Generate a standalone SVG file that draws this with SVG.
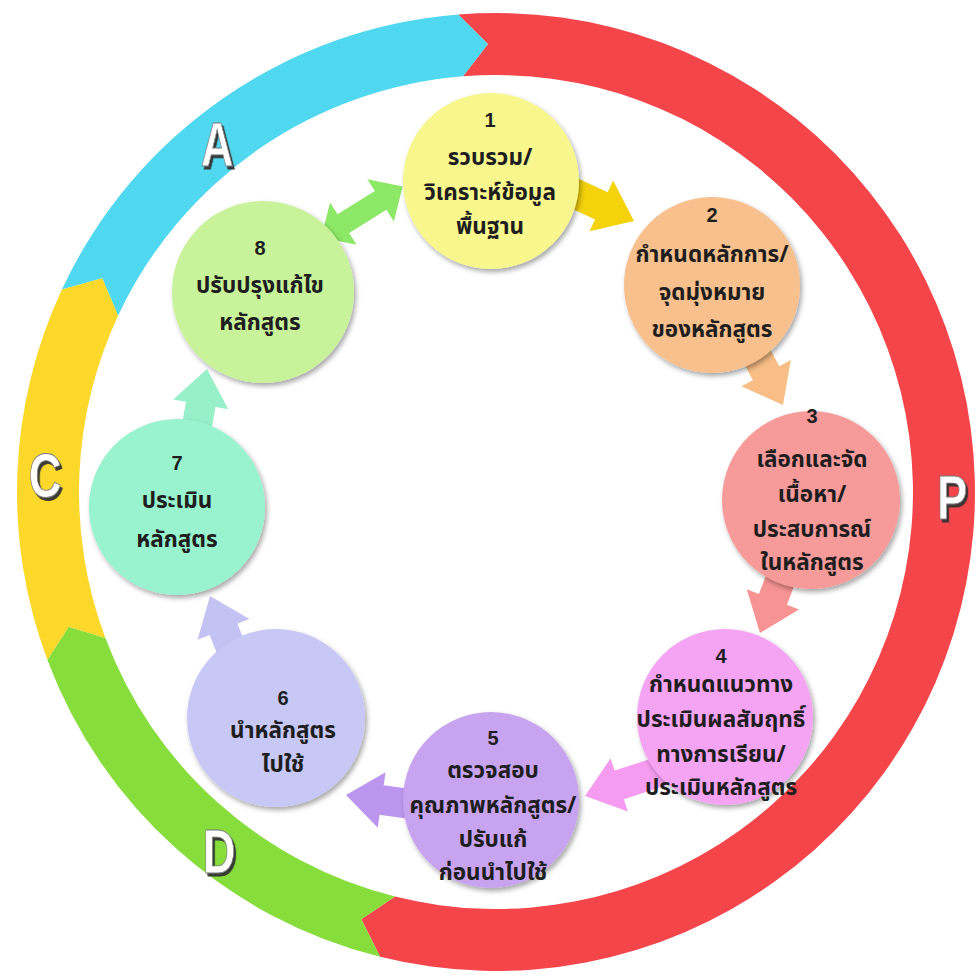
<svg xmlns="http://www.w3.org/2000/svg" xmlns:xlink="http://www.w3.org/1999/xlink" width="977" height="976" viewBox="0 0 977 976">
  <defs>
    <style>
      .t { font-family: "Noto Sans Thai", "Noto Sans Thai UI", "Tahoma", "Noto Sans", sans-serif; font-weight: bold; font-size: 22.5px; fill: #1e1e1e; text-anchor: middle; }
      .n { font-family: "Liberation Sans", "Noto Sans", sans-serif; font-weight: bold; font-size: 20px; fill: #1e1e1e; text-anchor: middle; }
      .L { font-family: "Liberation Sans", "Noto Sans", sans-serif; font-weight: bold; font-size: 63px; text-anchor: middle; fill: #ffffff; stroke: #777; stroke-width: 0.8; filter: url(#lsh); }
      .node circle { filter: url(#sh); }
    </style>
    <filter id="sh" x="-20%" y="-20%" width="140%" height="140%">
      <feDropShadow dx="2" dy="3" stdDeviation="2.5" flood-color="#000" flood-opacity="0.35"/>
    </filter>
    <filter id="lsh" x="-30%" y="-30%" width="160%" height="160%">
      <feDropShadow dx="3" dy="3" stdDeviation="0.6" flood-color="#333" flood-opacity="0.95"/>
    </filter>
    <polygon id="arr" points="-100,-15 -36,-15 -36,-28 0,0 -36,28 -36,15 -100,15"/>
    <polygon id="darr" points="-48,0 -22,-25 -22,-11 22,-11 22,-25 48,0 22,25 22,11 -22,11 -22,25"/>
  </defs>
  <rect width="977" height="976" fill="#ffffff"/>

  <g id="ring">
    <path id="seg-A" fill="#4FD8EF" d="M61.88,289.57 A479,479 0 0 1 458.42,14.47 L488.18,44.07 L463.28,76.28 A417,417 0 0 0 118.07,315.77 L102.29,278.23 Z"/>
    <path id="seg-P" fill="#F4464A" d="M458.42,14.47 A479,479 0 1 1 380.12,956.77 L361.28,919.27 L395.12,896.62 A417,417 0 1 0 463.28,76.28 L488.18,44.07 Z"/>
    <path id="seg-D" fill="#86DD3B" d="M380.12,956.77 A479,479 0 0 1 47.33,659.75 L68.73,626.72 L105.41,638.04 A417,417 0 0 0 395.12,896.62 L361.28,919.27 Z"/>
    <path id="seg-C" fill="#FBD82A" d="M47.33,659.75 A479,479 0 0 1 61.88,289.57 L102.29,278.23 L118.07,315.77 A417,417 0 0 0 105.41,638.04 L68.73,626.72 Z"/>
    <g id="letters">
      <g transform="translate(217,166) scale(0.72,1)"><text class="L">A</text></g>
      <g transform="translate(45,497) scale(0.72,1)"><text class="L">C</text></g>
      <g transform="translate(219,873) scale(0.72,1)"><text class="L">D</text></g>
      <g transform="translate(952,519) scale(0.72,1)"><text class="L">P</text></g>
    </g>
  </g>

  <g id="connectors">
    <use xlink:href="#arr" fill="#F4D20C" transform="translate(634,221) rotate(25)"/>
    <use xlink:href="#arr" fill="#F8BE86" transform="translate(783,405) rotate(62)"/>
    <use xlink:href="#arr" fill="#F79393" transform="translate(760,633) rotate(111)"/>
    <use xlink:href="#arr" fill="#F59CF0" transform="translate(585,796) rotate(162)"/>
    <use xlink:href="#arr" fill="#BC96EE" transform="translate(346,795) rotate(188)"/>
    <use xlink:href="#arr" fill="#C2C3F3" transform="translate(210,596) rotate(-112)"/>
    <use xlink:href="#arr" fill="#98F0C9" transform="translate(207,369) rotate(-80)"/>
    <use xlink:href="#darr" fill="#8CE866" transform="translate(362,212) rotate(-32)"/>
  </g>

  <g id="node1" class="node">
    <circle cx="491" cy="181" r="88" fill="#F8F78E"/>
    <text class="n" x="490" y="127">1</text>
    <text class="t" x="490" y="165">รวบรวม/</text>
    <text class="t" x="490" y="200">วิเคราะห์ข้อมูล</text>
    <text class="t" x="490" y="234">พื้นฐาน</text>
  </g>
  <g id="node2" class="node">
    <circle cx="712" cy="285" r="88" fill="#F8C08C"/>
    <text class="n" x="712" y="222">2</text>
    <text class="t" x="712" y="262">กำหนดหลักการ/</text>
    <text class="t" x="712" y="300">จุดมุ่งหมาย</text>
    <text class="t" x="712" y="337">ของหลักสูตร</text>
  </g>
  <g id="node3" class="node">
    <circle cx="811" cy="500" r="89" fill="#F79A9A"/>
    <text class="n" x="812" y="423">3</text>
    <text class="t" x="812" y="467">เลือกและจัด</text>
    <text class="t" x="812" y="502">เนื้อหา/</text>
    <text class="t" x="812" y="537">ประสบการณ์</text>
    <text class="t" x="812" y="570">ในหลักสูตร</text>
  </g>
  <g id="node4" class="node">
    <circle cx="725" cy="717" r="88" fill="#F5A3F3"/>
    <text class="n" x="721" y="663">4</text>
    <text class="t" x="721" y="692">กำหนดแนวทาง</text>
    <text class="t" x="721" y="727">ประเมินผลสัมฤทธิ์</text>
    <text class="t" x="721" y="762">ทางการเรียน/</text>
    <text class="t" x="721" y="795">ประเมินหลักสูตร</text>
  </g>
  <g id="node5" class="node">
    <circle cx="491" cy="800" r="88" fill="#C7A3F0"/>
    <text class="n" x="493" y="745">5</text>
    <text class="t" x="493" y="778">ตรวจสอบ</text>
    <text class="t" x="493" y="813">คุณภาพหลักสูตร/</text>
    <text class="t" x="493" y="847">ปรับแก้</text>
    <text class="t" x="493" y="880">ก่อนนำไปใช้</text>
  </g>
  <g id="node6" class="node">
    <circle cx="276" cy="718" r="89" fill="#C7C8F5"/>
    <text class="n" x="283" y="705">6</text>
    <text class="t" x="283" y="738">นำหลักสูตร</text>
    <text class="t" x="283" y="772">ไปใช้</text>
  </g>
  <g id="node7" class="node">
    <circle cx="177" cy="507" r="88" fill="#98F3CE"/>
    <text class="n" x="177" y="470">7</text>
    <text class="t" x="177" y="508">ประเมิน</text>
    <text class="t" x="177" y="547">หลักสูตร</text>
  </g>
  <g id="node8" class="node">
    <circle cx="263" cy="292" r="91" fill="#C9F39A"/>
    <text class="n" x="260" y="255">8</text>
    <text class="t" x="260" y="293">ปรับปรุงแก้ไข</text>
    <text class="t" x="260" y="330">หลักสูตร</text>
  </g>
</svg>
